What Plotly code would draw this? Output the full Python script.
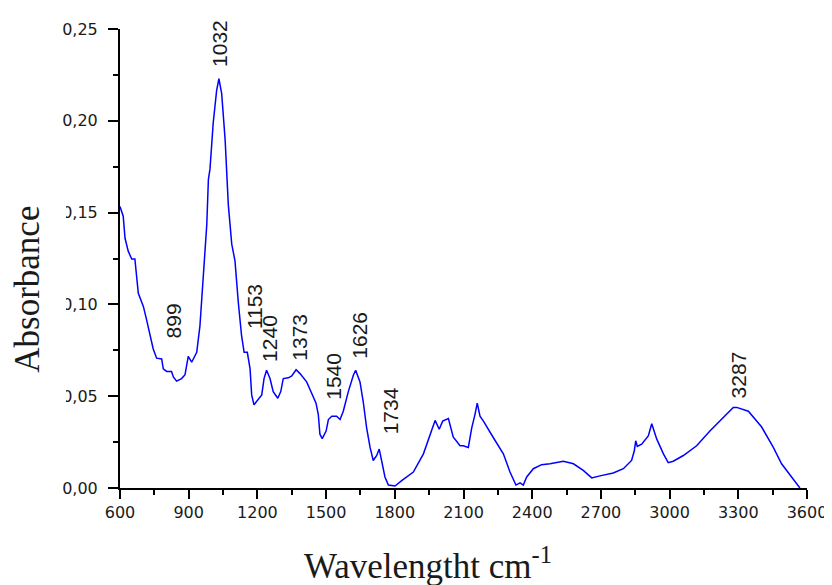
import plotly.graph_objects as go

wavenumber = [600, 614, 622, 636, 651, 665, 680, 702, 716, 745, 760, 782, 789, 804, 825, 833, 847,
              869, 884, 898, 913, 935, 949, 964, 979, 986, 993, 1007, 1022, 1032, 1044, 1059, 1073,
              1088, 1102, 1117, 1131, 1142, 1156, 1168, 1175, 1185, 1197, 1219, 1229, 1240, 1255,
              1269, 1289, 1302, 1313, 1335, 1350, 1369, 1386, 1415, 1437, 1456, 1466, 1473, 1483,
              1500, 1510, 1525, 1546, 1561, 1575, 1597, 1619, 1629, 1648, 1662, 1677, 1692, 1706,
              1721, 1732, 1743, 1757, 1772, 1801, 1830, 1866, 1881, 1925, 1954, 1976, 1994, 2009,
              2034, 2055, 2085, 2099, 2121, 2136, 2150, 2160, 2172, 2187, 2230, 2274, 2303, 2329,
              2347, 2361, 2376, 2405, 2441, 2478, 2536, 2580, 2623, 2660, 2696, 2754, 2798, 2834,
              2846, 2852, 2859, 2878, 2907, 2922, 2944, 2973, 2994, 3016, 3060, 3118, 3176, 3234,
              3278, 3293, 3344, 3402, 3453, 3489, 3533, 3569]
absorbance = [0.1533, 0.148, 0.136, 0.129, 0.1247, 0.1247, 0.106, 0.0989, 0.0917, 0.0757, 0.0707,
              0.0703, 0.0649, 0.0635, 0.0635, 0.0605, 0.0582, 0.0596, 0.0617, 0.0717, 0.0685,
              0.0739, 0.0882, 0.1185, 0.1435, 0.168, 0.1738, 0.1988, 0.2166, 0.2229, 0.2148,
              0.1899, 0.1542, 0.1328, 0.1238, 0.1006, 0.0828, 0.0739, 0.0739, 0.0649, 0.0507,
              0.0453, 0.0471, 0.0507, 0.0596, 0.0641, 0.0596, 0.0525, 0.0489, 0.0525, 0.0596,
              0.0600, 0.0610, 0.0644, 0.0623, 0.0578, 0.0516, 0.0462, 0.0400, 0.0293, 0.0269,
              0.0310, 0.0373, 0.0391, 0.0391, 0.0373, 0.0418, 0.0525, 0.0614, 0.0641, 0.0578,
              0.0471, 0.0328, 0.0221, 0.0150, 0.0177, 0.0212, 0.0150, 0.0060, 0.0016, 0.0011,
              0.0040, 0.0070, 0.0087, 0.0186, 0.0293, 0.0368, 0.0320, 0.0364, 0.0378, 0.0278,
              0.0230, 0.0230, 0.0221, 0.0328, 0.0400, 0.0462, 0.0391, 0.0364, 0.0275, 0.0186,
              0.0087, 0.0016, 0.0028, 0.0016, 0.0060, 0.0105, 0.0127, 0.0132, 0.0145, 0.0132,
              0.0096, 0.0055, 0.0066, 0.0082, 0.0105, 0.0150, 0.0203, 0.0257, 0.0226, 0.0239,
              0.0284, 0.0350, 0.0266, 0.0186, 0.0138, 0.0146, 0.0177, 0.0230, 0.0310, 0.0382,
              0.0439, 0.0439, 0.0418, 0.0332, 0.0221, 0.0132, 0.0060, 0.0000]

peak_labels = ["899", "1032", "1153", "1240", "1373", "1540", "1626", "1734", "3287"]
label_x = [833, 1037, 1185, 1252, 1386, 1529, 1648, 1779, 3300]
label_y = [0.0803, 0.2280, 0.0857, 0.0675, 0.0685, 0.0471, 0.0696, 0.0284, 0.0476]

x_ticks = [600, 900, 1200, 1500, 1800, 2100, 2400, 2700, 3000, 3300, 3600]
y_ticks = [0.00, 0.05, 0.10, 0.15, 0.20, 0.25]

fig = go.Figure()
fig.add_trace(go.Scatter(x=wavenumber, y=absorbance, mode="lines",
                         line=dict(color="#0000ff", width=1.5), showlegend=False))

annotations = []
for t, xv, yv in zip(peak_labels, label_x, label_y):
    annotations.append(dict(x=xv, y=yv, xref="x", yref="y", text=t, textangle=-90,
                            showarrow=False, xanchor="center", yanchor="bottom",
                            font=dict(family="Liberation Sans, Arial", size=21, color="#1a1a1a")))
annotations.append(dict(x=0.448, y=-0.165, xref="paper", yref="paper",
                        text="Wavelengtht cm<sup>-1</sup>", showarrow=False,
                        xanchor="center", yanchor="middle",
                        font=dict(family="Liberation Serif, Times New Roman", size=35, color="#1a1a1a")))
annotations.append(dict(x=-0.135, y=0.4325, xref="paper", yref="paper",
                        text="Absorbance", textangle=-90, showarrow=False,
                        xanchor="center", yanchor="middle",
                        font=dict(family="Liberation Serif, Times New Roman", size=35, color="#1a1a1a")))

fig.update_layout(
    width=832, height=585,
    margin=dict(l=112, r=33, t=13, b=105),
    paper_bgcolor="white", plot_bgcolor="white",
    separators=",.",
    annotations=annotations,
    shapes=[dict(type="rect", xref="paper", yref="paper", x0=-0.17, x1=-0.0786,
                 y0=0.124, y1=0.724, fillcolor="white", line=dict(width=0), layer="above")],
)
fig.update_xaxes(range=[600, 3600], tickvals=x_ticks, showline=True, linecolor="black",
                 linewidth=2, ticks="outside", ticklen=9, tickwidth=2, tickcolor="black",
                 showgrid=False, zeroline=False,
                 minor=dict(ticks="outside", ticklen=5, tickwidth=2, tickcolor="black", dtick=150,
                            tick0=600, showgrid=False),
                 tickfont=dict(family="DejaVu Sans", size=16, color="#1a1a1a"))
fig.update_yaxes(range=[0, 0.25], tickvals=y_ticks, tickformat=".2f", showline=True,
                 linecolor="black", linewidth=2, ticks="outside", ticklen=10, tickwidth=2,
                 tickcolor="black", showgrid=False, zeroline=False, ticklabelstandoff=7,
                 minor=dict(ticks="outside", ticklen=5, tickwidth=2, tickcolor="black", dtick=0.025,
                            tick0=0, showgrid=False),
                 tickfont=dict(family="DejaVu Sans", size=16, color="#1a1a1a"))

fig.write_html("out.html")
